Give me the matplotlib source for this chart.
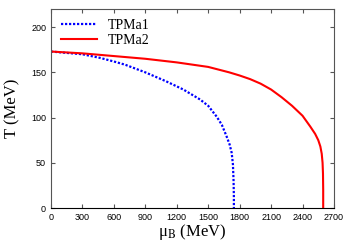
import numpy as np
import matplotlib.pyplot as plt

# TPMa1 (curva azul punteada)
mu_a1 = [0, 300, 468, 600, 706, 900, 1000, 1100, 1263, 1422, 1500, 1581, 1630, 1676, 1705, 1724, 1736, 1742, 1745, 1745]
T_a1 = [173, 170, 166, 162, 158.5, 150, 145, 140, 131, 120, 113, 101, 92, 79, 70, 61, 48, 30, 12, 0]

# TPMa2 (curva roja)
mu_a2 = [0, 300, 600, 900, 1200, 1500, 1700, 1800, 1900, 2000, 2100, 2200, 2300, 2400, 2474, 2520, 2550, 2570, 2583, 2591, 2595, 2597, 2597]
T_a2 = [173, 171, 168, 165, 161, 156, 150, 146.5, 142.5, 137.5, 131, 122.5, 113, 102, 90, 82, 75, 68, 60, 50, 38, 20, 0]

plt.rcParams['font.family'] = 'Liberation Sans'
plt.rcParams['mathtext.fontset'] = 'stix'

fig = plt.figure(figsize=(3.49, 2.44), dpi=100)
ax = fig.add_axes([0.146, 0.1475, 0.811, 0.8155])

ax.plot(mu_a1, T_a1, color='blue', linestyle=(0, (1, 0.8)), lw=1.6, label='TPMa1')
ax.plot(mu_a2, T_a2, color='red', lw=1.5, label='TPMa2')

ax.set_xlim(0, 2700)
ax.set_ylim(0, 220)
ax.set_xticks(np.arange(0, 2701, 300))
ax.set_yticks(np.arange(0, 201, 50))
ax.tick_params(direction='in', top=True, right=True, labelsize=6.5, length=3, color='#555555')
for s in ax.spines.values():
    s.set_color('#555555')
ax.spines['bottom'].set_color('black')

ax.set_xlabel(r'μ$_\mathrm{B}$ (MeV)', family='Liberation Serif', fontsize=12, labelpad=0)
ax.set_ylabel('T (MeV)', family='Liberation Serif', fontsize=12, labelpad=8)

ax.legend(loc='upper left', frameon=False, prop={'family': 'Liberation Serif', 'size': 10},
          handlelength=2.6, borderaxespad=0.3, labelspacing=0.15)

plt.savefig('out.png', dpi=100)
